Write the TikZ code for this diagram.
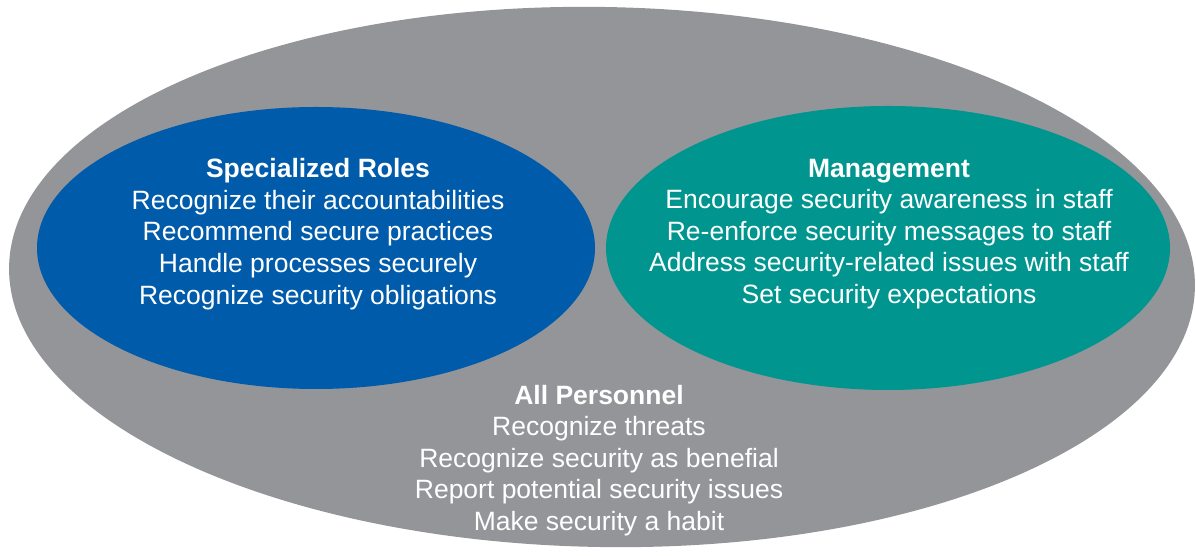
\documentclass[tikz,border=0pt]{standalone}
\usepackage{fontspec}
\setmainfont{Liberation Sans}
\usepackage{xcolor}
\definecolor{ovalgray}{HTML}{939598}
\definecolor{roleblue}{HTML}{005BAA}
\definecolor{mgmtteal}{HTML}{00968F}

\begin{document}
\begin{tikzpicture}[x=1pt,y=1pt,
  lista/.style={text=white, align=center, inner sep=0pt, font=\fontsize{26.5}{31.6}\selectfont}]
\useasboundingbox (0,0) rectangle (1196,556);
% All personnel (outer oval)
\begin{scope}
  \fill[ovalgray, rotate around={-1:(602,279)}] (602,279) ellipse [x radius=593, y radius=270];
  \node[lista] (allp) at (599,95.5) {\textbf{All Personnel}\\
    Recognize threats\\
    Recognize security as benefial\\
    Report potential security issues\\
    Make security a habit};
\end{scope}
% Specialized roles (left)
\begin{scope}
  \fill[roleblue] (316,308) ellipse [x radius=279, y radius=141];
  \node[lista] (spec) at (318,322) {\textbf{Specialized Roles}\\
    Recognize their accountabilities\\
    Recommend secure practices\\
    Handle processes securely\\
    Recognize security obligations};
\end{scope}
% Management (right)
\begin{scope}
  \fill[mgmtteal] (888,308) ellipse [x radius=282, y radius=142];
  \node[lista] (mgmt) at (889,322) {\textbf{Management}\\
    Encourage security awareness in staff\\
    Re-enforce security messages to staff\\
    Address security-related issues with staff\\
    Set security expectations};
\end{scope}
\end{tikzpicture}
\end{document}
